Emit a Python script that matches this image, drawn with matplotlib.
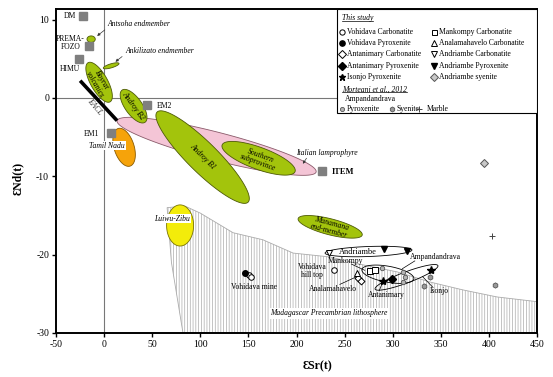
import numpy as np
import matplotlib
matplotlib.use("Agg")
import matplotlib.pyplot as plt
from matplotlib.patches import Polygon, Rectangle

plt.rcParams['font.family'] = ['Liberation Serif', 'DejaVu Serif']
plt.rcParams['axes.unicode_minus'] = False
plt.rcParams['hatch.linewidth'] = 0.5

# ---------------- data ----------------
X_TICKS = [-50, 0, 50, 100, 150, 200, 250, 300, 350, 400, 450]
Y_TICKS = [-30, -20, -10, 0, 10]

# mantle end-members (grey squares)
REF_NAMES = ['DM', 'PREMA-\nFOZO', 'HIMU', 'EM2', 'EM1', 'ITEM']
REF_SR = [-21.8, -15.6, -26.0, 44.7, 7.3, 226.6]
REF_ND = [10.5, 6.6, 5.0, -0.9, -4.5, -9.3]

# fields: name, end 1 (Sr, Nd), end 2 (Sr, Nd)
FIELD_NAMES = ['Antsoha', 'Ankilizato', 'Boyrat', 'Italian', 'Androy B2',
               'Androy B1', 'Southern', 'Tamil Nadu', 'Luiwu-Zibu', 'Manamana',
               'Andriambe', 'Ampandandrava', 'Isonjo']
FIELD_P1 = [(-17.8, 7.5), (-0.8, 3.8), (-16.6, 4.5), (13.5, -2.9), (18.7, 1.0),
            (55.1, -1.8), (122.7, -6.0), (14.6, -3.9), (79.0, -13.65), (201.7, -15.4),
            (229.7, -19.8), (268.0, -21.9), (281.7, -24.4)]
FIELD_P2 = [(-9.2, 7.5), (15.5, 4.4), (6.2, -0.5), (220.4, -9.45), (42.6, -3.1),
            (149.7, -13.3), (198.5, -9.4), (27.0, -8.7), (79.0, -18.9), (268.3, -17.5),
            (320.0, -19.4), (322.0, -23.1), (347.0, -21.4)]

# Madagascar Precambrian lithosphere outline
LITHO_SR = [65.5, 84, 100, 134, 165, 196.5, 235, 269, 304.6, 339, 373, 408.5, 450, 450, 82, 70]
LITHO_ND = [-14.0, -13.8, -14.7, -17.2, -18.1, -19.8, -20.3, -21.3, -22.2, -23.5, -24.5,
            -25.4, -26.0, -30, -30, -21]

# EACL line
EACL_SR = [-24.9, 13.5]
EACL_ND = [2.2, -2.9]

# This study
VOH_CARB_SR = [150.7, 152.8, 239.0]
VOH_CARB_ND = [-22.6, -22.8, -21.9]
VOH_PYX_SR = [146.6]
VOH_PYX_ND = [-22.3]
ANT_CARB_SR = [264.0, 267.0]
ANT_CARB_ND = [-23.0, -23.4]
ANT_PYX_SR = [299.5]
ANT_PYX_ND = [-23.1]
ISO_PYX_SR = [290.0, 340.0]
ISO_PYX_ND = [-23.4, -22.0]
MAN_CARB_SR = [276.0, 281.5]
MAN_CARB_ND = [-22.1, -22.0]
ANA_CARB_SR = [263.0]
ANA_CARB_ND = [-22.4]
AND_CARB_SR = [234.0]
AND_CARB_ND = [-19.8]
AND_PYX_SR = [291.0, 315.0]
AND_PYX_ND = [-19.3, -19.5]
AND_SYE_SR = [395.0]
AND_SYE_ND = [-8.3]
# Morteani et al., 2012 (Ampandandrava)
MOR_PYX_SR = [289.0, 311.0, 313.0, 311.0]
MOR_PYX_ND = [-21.7, -22.2, -22.8, -23.5]
MOR_SYE_SR = [332.6, 339.0, 406.0]
MOR_SYE_ND = [-24.0, -22.8, -23.9]
MOR_MAR_SR = [403.0]
MOR_MAR_ND = [-17.6]

# ---------------- figure ----------------
fig = plt.figure(figsize=(5.53, 3.77), dpi=100)
ax = fig.add_axes([56/553, 44/377, 481/553, 324/377])
ax.set_xlim(-50, 450)
ax.set_ylim(-30, 11.35)
ax.set_xticks(X_TICKS)
ax.set_yticks(Y_TICKS)
ax.tick_params(direction='out', length=3, width=1, labelsize=7, pad=2)
for s in ax.spines.values():
    s.set_linewidth(1.4)

ax.axhline(0, color='#777777', lw=0.8, zorder=0.5)
ax.axvline(0, color='#777777', lw=0.8, zorder=0.5)

GREEN = '#a3c40c'
GEDGE = '#4d5a05'
PINK = '#f4c5d6'
ORANGE = '#f6a30a'
YELLOW = '#f3ec0a'

def field_xy(p1, p2, minor_px, n=120):
    T = ax.transData
    a = T.transform(p1)
    b = T.transform(p2)
    c = (a + b) / 2
    d = b - a
    L = np.hypot(d[0], d[1]) / 2
    ang = np.arctan2(d[1], d[0])
    t = np.linspace(0, 2 * np.pi, n)
    ex = L * np.cos(t)
    ey = minor_px / 2 * np.sin(t)
    px = c[0] + ex * np.cos(ang) - ey * np.sin(ang)
    py = c[1] + ex * np.sin(ang) + ey * np.cos(ang)
    return T.inverted().transform(np.column_stack([px, py]))

FIELD_STYLE = {
    'Antsoha': (6.5, GREEN, GEDGE, 3),
    'Ankilizato': (4, GREEN, GEDGE, 3),
    'Boyrat': (17, GREEN, GEDGE, 3),
    'Italian': (28, PINK, '#8a5a6a', 2),
    'Androy B2': (17, GREEN, GEDGE, 3),
    'Androy B1': (30, GREEN, GEDGE, 3),
    'Southern': (22, GREEN, GEDGE, 3.1),
    'Tamil Nadu': (20, ORANGE, '#8a5a00', 2.5),
    'Luiwu-Zibu': (27, YELLOW, '#7a7400', 3),
    'Manamana': (16, GREEN, GEDGE, 3),
    'Andriambe': (10, 'none', 'black', 4),
    'Ampandandrava': (16, 'none', 'black', 4),
    'Isonjo': (11, 'none', 'black', 4),
}
for name, p1, p2 in zip(FIELD_NAMES, FIELD_P1, FIELD_P2):
    w, fc, ec, z = FIELD_STYLE[name]
    ax.add_patch(Polygon(field_xy(p1, p2, w), closed=True, facecolor=fc,
                         edgecolor=ec, lw=0.6, zorder=z))

# lithosphere
ax.add_patch(Polygon(np.column_stack([LITHO_SR, LITHO_ND]), closed=True,
                     facecolor='none', edgecolor='#ababab', hatch='||||||',
                     lw=0.6, zorder=1))

# EACL
ax.plot(EACL_SR, EACL_ND, color='black', lw=2.6, solid_capstyle='butt', zorder=3)

# end-members
ax.plot(REF_SR, REF_ND, ls='none', marker='s', ms=6.3, mfc='#7f7f7f',
        mec='#7f7f7f', zorder=5)

# ---- points ----
def pts(x, y, **kw):
    ax.plot(x, y, ls='none', zorder=6, **kw)

pts(VOH_CARB_SR, VOH_CARB_ND, marker='o', ms=4, mfc='white', mec='black', mew=0.7)
pts(VOH_PYX_SR, VOH_PYX_ND, marker='o', ms=4, mfc='black', mec='black')
pts(ANT_CARB_SR, ANT_CARB_ND, marker='D', ms=3.5, mfc='white', mec='black', mew=0.7)
pts(ANT_PYX_SR, ANT_PYX_ND, marker='D', ms=3.8, mfc='black', mec='black')
pts(ISO_PYX_SR, ISO_PYX_ND, marker='*', ms=6, mfc='black', mec='black')
pts(MAN_CARB_SR, MAN_CARB_ND, marker='s', ms=3.8, mfc='white', mec='black', mew=0.7)
pts(ANA_CARB_SR, ANA_CARB_ND, marker='^', ms=4, mfc='white', mec='black', mew=0.7)
pts(AND_CARB_SR, AND_CARB_ND, marker='v', ms=4, mfc='white', mec='black', mew=0.7)
pts(AND_PYX_SR, AND_PYX_ND, marker='v', ms=4, mfc='black', mec='black')
pts(AND_SYE_SR, AND_SYE_ND, marker='D', ms=3.8, mfc='#c8c8c8', mec='#555555', mew=0.7)
pts(MOR_PYX_SR, MOR_PYX_ND, marker='o', ms=3.2, mfc='#b5b5b5', mec='#555555', mew=0.6)
pts(MOR_SYE_SR, MOR_SYE_ND, marker='h', ms=3.8, mfc='#9a9a9a', mec='#555555', mew=0.6)
pts(MOR_MAR_SR, MOR_MAR_ND, marker='+', ms=4.5, mec='#444444', mew=0.7)

# ---- labels ----
FS = 5.5
def lab(x, y, s, **kw):
    kw.setdefault('fontsize', FS)
    kw.setdefault('ha', 'center')
    kw.setdefault('va', 'center')
    ax.text(x, y, s, zorder=7, **kw)

lab(-29, 10.5, 'DM', ha='right')
lab(-35, 7.0, 'PREMA-\nFOZO', linespacing=1.0)
lab(-36, 3.7, 'HIMU')
lab(55, -1.0, 'EM2', ha='left')
lab(-5, -4.6, 'EM1', ha='right')
lab(237, -9.4, 'ITEM', ha='left', fontweight='bold', fontsize=6)

lab(3, 9.4, 'Antsoha endmember', ha='left', style='italic')
ax.annotate('', xy=(-9.5, 7.7), xytext=(3, 8.9),
            arrowprops=dict(arrowstyle='-|>', lw=0.5, color='#333333',
                            mutation_scale=4), zorder=7)
lab(21.8, 6.0, 'Ankilizato endmember', ha='left', style='italic')
ax.annotate('', xy=(9.5, 4.4), xytext=(21, 5.5),
            arrowprops=dict(arrowstyle='-|>', lw=0.5, color='#333333',
                            mutation_scale=4), zorder=7)
lab(199.6, -7.0, 'Italian lamprophyre', ha='left', style='italic')
ax.annotate('', xy=(205, -8.7), xytext=(212, -7.4),
            arrowprops=dict(arrowstyle='-|>', lw=0.5, color='#333333',
                            mutation_scale=4), zorder=7)

lab(-6, 2.0, 'Boyrat\nvolcanics', style='italic', rotation=-60, linespacing=0.9)
lab(-9.4, -1.2, 'EACL', style='italic', rotation=-50, color='#333333')
lab(30, -1.0, 'Androy B2', style='italic', rotation=-54)
lab(103, -7.5, 'Androy B1', style='italic', rotation=-45)
lab(161, -7.8, 'Southern\nsubprovince', style='italic', rotation=-20, linespacing=0.9)
lab(3, -6.1, 'Tamil Nadu', style='italic',
    bbox=dict(facecolor='white', edgecolor='none', pad=0.5))
lab(70.7, -15.4, 'Luiwu-Zibu', style='italic',
    bbox=dict(facecolor='white', edgecolor='none', pad=0.5))
lab(235, -16.5, 'Manamana\nend-member', style='italic', rotation=-15, linespacing=0.9)
lab(234, -27.5, 'Madagascar Precambrian lithosphere', style='italic',
    bbox=dict(facecolor='white', edgecolor='none', pad=0.8))

lab(264, -19.6, 'Andriambe', fontsize=6)
lab(250.5, -20.8, 'Mankompy')
lab(216, -22.1, 'Vohidava\nhill top', linespacing=0.9)
lab(156, -24.1, 'Vohidava mine')
lab(238, -24.4, 'Analamahavelo')
lab(293, -25.1, 'Antanimary')
lab(318, -20.3, 'Ampandandrava', ha='left')
lab(348, -24.7, 'Isonjo')

POINTERS = [((257, -21.2), (271, -22.0)), ((245, -23.8), (261, -22.9)),
            ((286, -24.6), (289, -23.7)), ((323, -20.8), (310, -21.8)),
            ((342, -24.2), (331, -22.8))]
for (x0, y0), (x1, y1) in POINTERS:
    ax.plot([x0, x1], [y0, y1], color='black', lw=0.5, zorder=6)

ax.set_xlabel('\u0190Sr(t)', fontsize=8.5, fontweight='bold')
ax.set_ylabel('\u0190Nd(t)', fontsize=8.5, fontweight='bold')
ax.xaxis.set_label_coords(0.543, -0.084)
ax.yaxis.set_label_coords(-0.066, 0.478)

# ---- legend (manual) ----
tA = ax.transAxes
ax.add_patch(Rectangle((0.584, 0.679), 0.416, 0.321, transform=tA,
                       facecolor='white', edgecolor='black', lw=0.8, zorder=9))

fig.canvas.draw()
rend = fig.canvas.get_renderer()

def ltext(x, y, s, underline=False, **kw):
    t = ax.text(x, y, s, transform=tA, fontsize=FS, ha='left', va='center',
                zorder=11, **kw)
    if underline:
        bb = t.get_window_extent(renderer=rend).transformed(tA.inverted())
        ax.plot([bb.x0, bb.x1], [bb.y0 + 0.004, bb.y0 + 0.004], transform=tA,
                color='black', lw=0.5, zorder=11)

def lmark(x, y, **kw):
    ax.plot([x], [y], transform=tA, ls='none', zorder=11, clip_on=False, **kw)

ltext(0.594, 0.972, 'This study', underline=True, style='italic')
ROWS = [0.930, 0.894, 0.860, 0.825, 0.791]
C1M, C1T, C2M, C2T = 0.594, 0.604, 0.786, 0.796
col1 = [('Vohidava Carbonatite', dict(marker='o', ms=3.8, mfc='white', mec='black', mew=0.7)),
        ('Vohidava Pyroxenite', dict(marker='o', ms=3.8, mfc='black', mec='black')),
        ('Antanimary Carbonatite', dict(marker='D', ms=3.6, mfc='white', mec='black', mew=0.7)),
        ('Antanimary Pyroxenite', dict(marker='D', ms=3.6, mfc='black', mec='black')),
        ('Isonjo Pyroxenite', dict(marker='*', ms=5, mfc='black', mec='black'))]
col2 = [('Mankompy Carbonatite', dict(marker='s', ms=3.6, mfc='white', mec='black', mew=0.7)),
        ('Analamahavelo Carbonatite', dict(marker='^', ms=3.8, mfc='white', mec='black', mew=0.7)),
        ('Andriambe Carbonatite', dict(marker='v', ms=3.8, mfc='white', mec='black', mew=0.7)),
        ('Andriambe Pyroxenite', dict(marker='v', ms=3.8, mfc='black', mec='black')),
        ('Andriambe syenite', dict(marker='D', ms=3.6, mfc='#c8c8c8', mec='#555555', mew=0.7))]
for y, (s, mk) in zip(ROWS, col1):
    lmark(C1M, y, **mk)
    ltext(C1T, y, s)
for y, (s, mk) in zip(ROWS, col2):
    lmark(C2M, y, **mk)
    ltext(C2T, y, s)

ltext(0.594, 0.752, 'Morteani et al., 2012', underline=True, style='italic')
ltext(0.601, 0.722, 'Ampandandrava')
lmark(0.594, 0.691, marker='o', ms=3.0, mfc='#b5b5b5', mec='#555555', mew=0.6)
ltext(0.604, 0.691, 'Pyroxenite')
lmark(0.698, 0.691, marker='h', ms=3.6, mfc='#9a9a9a', mec='#555555', mew=0.6)
ltext(0.708, 0.691, 'Syenite')
lmark(0.755, 0.691, marker='+', ms=4.2, mec='#444444', mew=0.7)
ltext(0.771, 0.691, 'Marble')

fig.savefig('out.png', dpi=100)
